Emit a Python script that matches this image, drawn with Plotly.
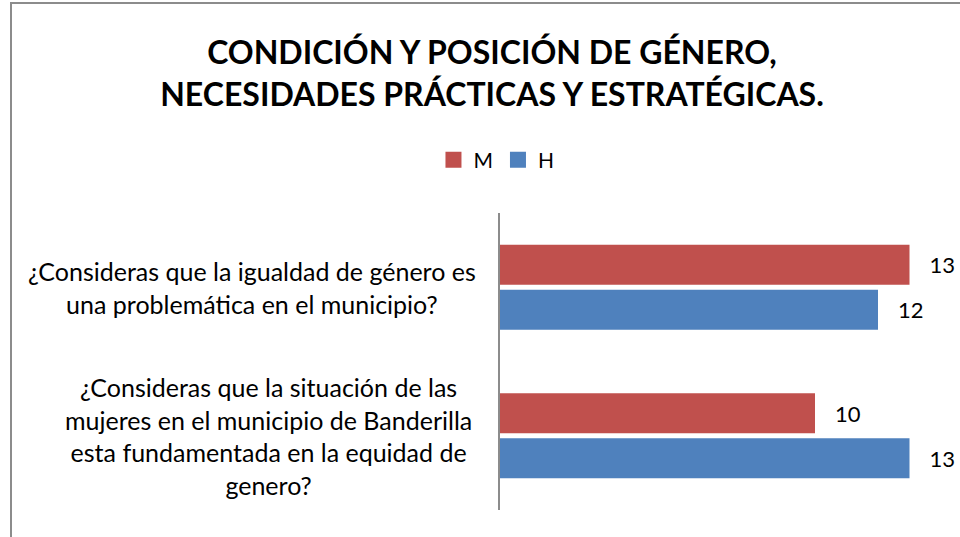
import plotly.graph_objects as go

categories = [
    "¿Consideras que la igualdad de género es<br>una problemática en el municipio?",
    "¿Consideras que la situación de las<br>mujeres en el municipio de Banderilla<br>esta fundamentada en la equidad de<br>genero?",
]
series_names = ["M", "H"]
values_m = [13, 10]
values_h = [12, 13]
colors = {"M": "#C0504D", "H": "#4F81BD"}
title_text = "CONDICIÓN Y POSICIÓN DE GÉNERO,<br>NECESIDADES PRÁCTICAS Y ESTRATÉGICAS."

FONT = "Lato, 'Open Sans', sans-serif"
fig = go.Figure()
for name, vals in zip(series_names, [values_m, values_h]):
    fig.add_trace(go.Bar(
        y=categories, x=vals, name=name, orientation="h",
        marker=dict(color=colors[name], line=dict(width=0)),
        texttemplate="\u00a0\u00a0\u00a0%{x}", textposition="outside",
        textfont=dict(family=FONT, size=22, color="#000000"),
        cliponaxis=False, showlegend=False,
    ))
# legend entries (square swatches)
for name in series_names:
    fig.add_trace(go.Scatter(
        x=[None], y=[None], mode="markers", name=name,
        marker=dict(symbol="square", size=16, color=colors[name]),
        showlegend=True,
    ))

label_x = [-0.562, -0.526]
for cat, lx in zip(categories, label_x):
    fig.add_annotation(x=lx, xref="paper", y=cat, yref="y", text=cat,
                       showarrow=False, align="center", xanchor="center",
                       yanchor="middle",
                       font=dict(family=FONT, size=25, color="#000000"))

fig.add_shape(type="rect", xref="paper", yref="paper",
              x0=(11 - 500) / 441, x1=2, y0=-1, y1=(510 - 3) / 297,
              line=dict(color="#8C8C8C", width=2), fillcolor="rgba(0,0,0,0)",
              layer="below")

fig.update_layout(
    width=960, height=537,
    margin=dict(l=500, r=19, t=213, b=27, autoexpand=False),
    paper_bgcolor="white", plot_bgcolor="white",
    barmode="group", bargap=0.394, bargroupgap=0.11,
    title=dict(text=title_text, x=0.5125, xanchor="center", y=0.881,
               yanchor="middle", xref="container", yref="container",
               font=dict(family=FONT, size=32, color="#000000", weight="bold")),
    legend=dict(orientation="h", x=-0.008, xanchor="center", y=1.178,
                yanchor="middle", font=dict(family=FONT, size=21, color="#000000"),
                itemsizing="trace", itemwidth=30, traceorder="normal"),
    xaxis=dict(range=[0, 14], visible=False, showgrid=False, zeroline=False),
    yaxis=dict(autorange="reversed", showticklabels=False, showgrid=False,
               zeroline=False, showline=True, linecolor="#8C8C8C", linewidth=2,
               ticks=""),
    showlegend=True,
)

fig.write_html("out.html", config={"displayModeBar": False},
               post_script="document.body.style.margin='0';document.body.style.padding='0';")
